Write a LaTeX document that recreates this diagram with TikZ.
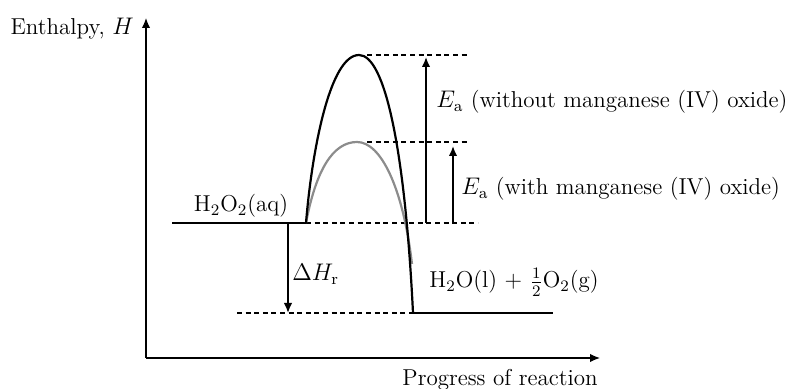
\documentclass[tikz,border=0pt]{standalone}
\usepackage{amsmath,amssymb}
\usepackage{xcolor}
\usepackage{tikz}
\usetikzlibrary{arrows.meta,positioning}
\definecolor{curveGrey}{HTML}{8C8C8C}

\begin{document}
\begin{tikzpicture}[
        x=0.5pt, y=-0.5pt,
        every node/.style={font=\fontsize{11.5}{14}\selectfont, inner sep=0pt},
        axis/.style={-{Latex[length=5pt,width=4.2pt]}, line width=0.6pt},
        level/.style={line width=1.1pt},
        guide/.style={line width=0.8pt, dash pattern=on 2.5pt off 1.8pt},
        arr/.style={-{Latex[length=5pt,width=4.2pt]}, line width=0.8pt},
    ]
        \useasboundingbox (0,0) rectangle (808,389);

        % axes
        \coordinate (o) at (146,358);
        \coordinate (ytip) at (146,18);
        \coordinate (xtip) at (600,358);
        \draw[axis] (o) -- (ytip);
        \draw[axis] (o) -- (xtip);
        \node[anchor=base east] (hlab) at (134,35) {Enthalpy, $H$};
        \node[anchor=base east] (plab) at (598,386) {Progress of reaction};

        % energy levels
        \coordinate (rL) at (172,223);
        \coordinate (r0) at (306,223);
        \coordinate (rR) at (478,223);
        \coordinate (pL) at (237,313);
        \coordinate (p0) at (413,313);
        \coordinate (pR) at (553,313);
        \coordinate (top) at (359,55);
        \coordinate (mid) at (357,142);
        \coordinate (gEnd) at (412,264);

        \draw[level] (rL) -- (r0);
        \draw[level] (p0) -- (pR);
        \draw[guide] (r0) -- (rR);
        \draw[guide] (pL) -- (p0);
        \draw[guide] (367,55) coordinate (tL) -- (468,55) coordinate (tR);
        \draw[guide] (367,142) coordinate (mL) -- (468,142) coordinate (mR);

        % humps
        \draw[level, curveGrey] (r0) .. controls (316,170) and (333,142) .. (mid)
            .. controls (381,142) and (403,188) .. (gEnd);
        \draw[level] (r0) .. controls (312,150) and (330,55) .. (top)
            .. controls (385,55) and (405,150) .. (p0);

        % arrows
        \coordinate (eaA) at (426,223);
        \coordinate (eaB) at (426,57);
        \coordinate (ebA) at (453,223);
        \coordinate (ebB) at (453,146);
        \coordinate (dhA) at (288,223);
        \coordinate (dhB) at (288,313);
        \draw[arr] (eaA) -- (eaB);
        \draw[arr] (ebA) -- (ebB);
        \draw[arr] (dhA) -- (dhB);

        % labels
        \node[anchor=base] (react) at (241,212) {H$_2$O$_2$(aq)};
        \node[anchor=base west] (prod) at (429,288) {H$_2$O(l) + $\tfrac12$O$_2$(g)};
        \node[anchor=base west] (dh) at (292,281) {$\Delta H_\mathrm{r}$};
        \node[anchor=base west] (eaWo) at (436,108) {$E_\mathrm{a}$ (without manganese (IV) oxide)};
        \node[anchor=base west] (eaW) at (461,195) {$E_\mathrm{a}$ (with manganese (IV) oxide)};
    \end{tikzpicture}
\end{document}
